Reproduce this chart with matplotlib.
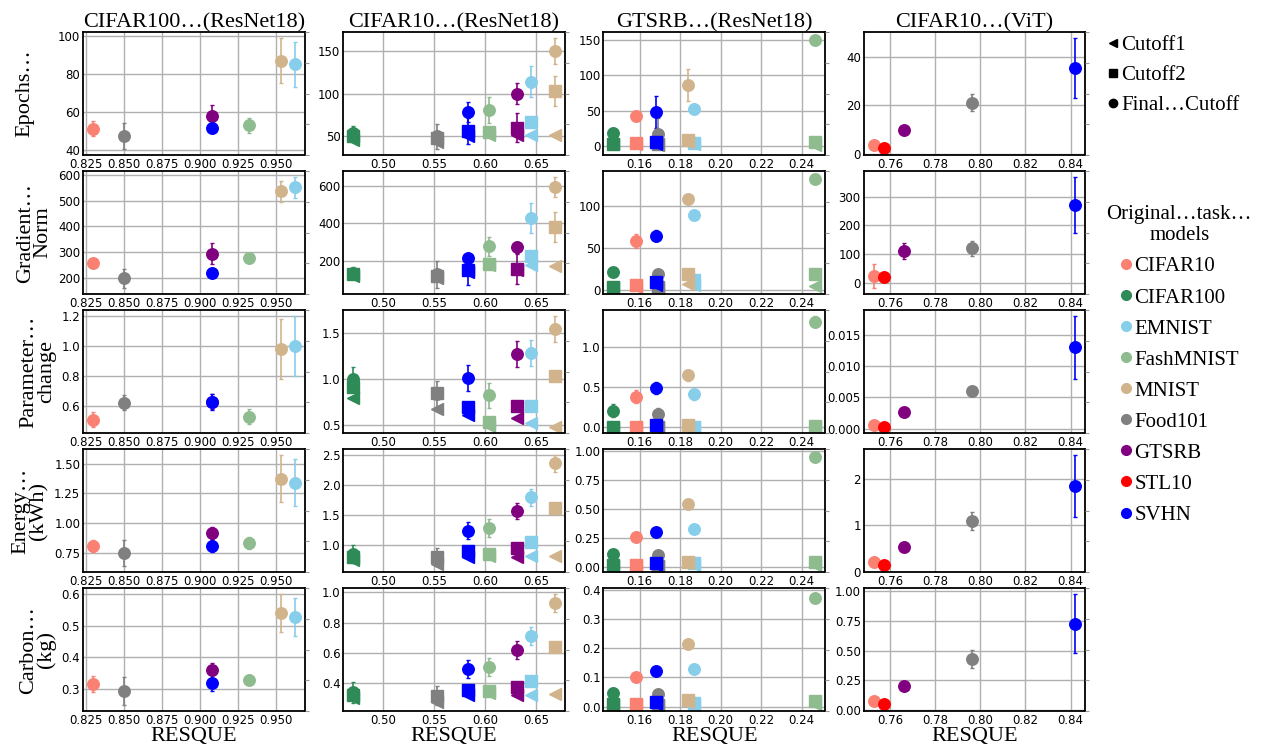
import matplotlib
matplotlib.use("Agg")
import matplotlib.pyplot as plt
from matplotlib.lines import Line2D

SERIF = "Liberation Serif"

# rows / columns
metrics = ["Epochs…\n ", "Gradient…\nNorm", "Parameter…\nchange", "Energy…\n(kWh)", "Carbon…\n(kg)"]
titles = ["CIFAR100…(ResNet18)", "CIFAR10…(ResNet18)", "GTSRB…(ResNet18)", "CIFAR10…(ViT)"]

legend_sets = ["CIFAR10", "CIFAR100", "EMNIST", "FashMNIST", "MNIST", "Food101", "GTSRB", "STL10", "SVHN"]
set_colors = ["salmon", "seagreen", "skyblue", "darkseagreen", "tan", "gray", "purple", "red", "blue"]
cut_labels = ["Cutoff1", "Cutoff2", "Final…Cutoff"]
cut_markers = ["<", "s", "o"]

# column 1: CIFAR100 (ResNet18) - final cutoff only
c1_sets = ["CIFAR10", "EMNIST", "FashMNIST", "MNIST", "Food101", "GTSRB", "SVHN"]
c1_resque = [0.8294, 0.9626, 0.9325, 0.9533, 0.8497, 0.908, 0.908]
c1_final = [
    [51.2, 85.1, 52.8, 87.2, 47.2, 58, 51.6],
    [259, 551, 278, 535, 200, 295, 220],
    [0.511, 1.0, 0.531, 0.98, 0.624, 0.63, 0.629],
    [0.809, 1.34, 0.832, 1.374, 0.745, 0.913, 0.81],
    [0.316, 0.528, 0.327, 0.541, 0.292, 0.358, 0.318],
]
c1_final_err = [
    [4, 12, 4, 12, 7, 5.5, 3],
    [8, 40, 6, 40, 38, 40, 8],
    [0.05, 0.2, 0.05, 0.2, 0.05, 0.05, 0.05],
    [0.05, 0.2, 0.05, 0.2, 0.11, 0.05, 0.05],
    [0.025, 0.06, 0.005, 0.06, 0.045, 0.025, 0.025],
]

# column 2: CIFAR10 (ResNet18)
c2_sets = ["CIFAR100", "EMNIST", "FashMNIST", "MNIST", "Food101", "GTSRB", "SVHN"]
c2_resque = [0.471, 0.645, 0.604, 0.668, 0.553, 0.631, 0.583]
c2_cut1 = [
    [46, 51.5, 52, 51.5, 44, 52, 50],
    [118, 178, 178, 173, 105, 150, 140],
    [0.795, 0.52, 0.485, 0.475, 0.675, 0.577, 0.606],
    [0.76, 0.82, 0.83, 0.82, 0.69, 0.80, 0.80],
    [0.30, 0.32, 0.33, 0.322, 0.275, 0.318, 0.32],
]
c2_cut2 = [
    [50, 67, 55, 103, 48, 60, 56],
    [125, 225, 180, 380, 115, 155, 148],
    [0.91, 0.71, 0.53, 1.025, 0.843, 0.71, 0.69],
    [0.80, 1.055, 0.86, 1.625, 0.80, 0.95, 0.90],
    [0.32, 0.414, 0.343, 0.64, 0.314, 0.374, 0.35],
]
c2_cut2_err = [
    [0, 0, 0, 17, 0, 17, 15],
    [0, 0, 0, 80, 0, 80, 80],
    [0, 0, 0, 0, 0, 0, 0],
    [0, 0, 0, 0, 0, 0, 0],
    [0, 0, 0, 0, 0, 0, 0],
]
c2_final = [
    [54, 114, 81, 150, 50, 100, 78.5],
    [135, 428, 276, 596, 125, 271, 215],
    [1.0, 1.28, 0.82, 1.54, 0.84, 1.266, 1.01],
    [0.85, 1.80, 1.285, 2.36, 0.80, 1.57, 1.24],
    [0.335, 0.708, 0.505, 0.93, 0.314, 0.62, 0.49],
]
c2_final_err = [
    [8, 18, 15, 15, 15, 12, 12],
    [30, 80, 50, 55, 75, 30, 20],
    [0.13, 0.14, 0.14, 0.14, 0.14, 0.14, 0.14],
    [0.15, 0.14, 0.15, 0.14, 0.15, 0.14, 0.14],
    [0.07, 0.06, 0.06, 0.06, 0.065, 0.06, 0.06],
]

# column 3: GTSRB (ResNet18)
c3_sets = ["CIFAR10", "CIFAR100", "EMNIST", "FashMNIST", "MNIST", "Food101", "SVHN"]
c3_resque = [0.158, 0.147, 0.187, 0.2466, 0.1836, 0.169, 0.1678]
c3_cut1 = [
    [2, 2, 3, 1.5, 5, 1, 3],
    [3, 3, 6, 4.5, 7, 2, 6],
    [0.005, 0.0, 0.005, 0.01, 0.02, 0.0, 0.01],
    [0.01, 0.01, 0.015, 0.02, 0.03, 0.005, 0.02],
    [0.005, 0.004, 0.006, 0.01, 0.015, 0.004, 0.01],
]
c3_cut2 = [
    [3.4, 3, 4, 6, 7.7, 2, 6],
    [5.4, 3.7, 12.4, 18.6, 18.6, 4, 10],
    [0.01, 0.01, 0.01, 0.02, 0.034, 0.005, 0.03],
    [0.018, 0.02, 0.03, 0.044, 0.044, 0.01, 0.035],
    [0.01, 0.009, 0.011, 0.02, 0.022, 0.007, 0.017],
]
c3_cut2_err = [
    [0, 0, 0, 0, 0, 0, 0],
    [0, 0, 0, 0, 4, 0, 8],
    [0, 0, 0, 0, 0, 0, 0],
    [0, 0, 0, 0, 0, 0, 0],
    [0, 0, 0, 0, 0, 0, 0],
]
c3_final = [
    [41.5, 18.8, 52, 150, 86, 17, 48],
    [58.3, 21, 88.4, 131, 108, 19, 64.5],
    [0.382, 0.21, 0.41, 1.32, 0.647, 0.172, 0.49],
    [0.258, 0.114, 0.326, 0.947, 0.54, 0.103, 0.305],
    [0.103, 0.048, 0.129, 0.372, 0.214, 0.043, 0.122],
]
c3_final_err = [
    [4, 4, 4, 3, 23, 22, 23],
    [8, 3, 3, 3, 4, 4, 6],
    [0.08, 0.08, 0.07, 0.07, 0.07, 0.07, 0.07],
    [0.02, 0.02, 0.02, 0.02, 0.02, 0.02, 0.02],
    [0.008, 0.008, 0.008, 0.014, 0.008, 0.008, 0.008],
]

# column 4: CIFAR10 (ViT) - final cutoff only
c4_sets = ["CIFAR10", "Food101", "GTSRB", "STL10", "SVHN"]
c4_resque = [0.7527, 0.7961, 0.7661, 0.7572, 0.8421]
c4_final = [
    [3.7, 21.1, 9.9, 2.3, 35.6],
    [24, 120, 111, 21, 271],
    [0.0006, 0.006, 0.0026, 0.0003, 0.013],
    [0.204, 1.095, 0.525, 0.139, 1.847],
    [0.0756, 0.43, 0.206, 0.049, 0.727],
]
c4_final_err = [
    [0.8, 3.5, 0.8, 0.5, 12.5],
    [42, 25, 28, 5, 97],
    [0.0002, 0.0003, 0.0002, 0.0001, 0.005],
    [0.03, 0.2, 0.03, 0.02, 0.66],
    [0.01, 0.075, 0.01, 0.01, 0.25],
]

zero1 = [[0] * 7 for _ in range(5)]
columns = [
    (c1_sets, c1_resque, [(2, c1_final, c1_final_err)]),
    (c2_sets, c2_resque, [(0, c2_cut1, zero1), (1, c2_cut2, c2_cut2_err), (2, c2_final, c2_final_err)]),
    (c3_sets, c3_resque, [(0, c3_cut1, zero1), (1, c3_cut2, c3_cut2_err), (2, c3_final, c3_final_err)]),
    (c4_sets, c4_resque, [(2, c4_final, c4_final_err)]),
]

fig, axes = plt.subplots(5, 4, figsize=(12.73, 7.47), dpi=100)
fig.subplots_adjust(left=0.0652, right=0.8526, top=0.9568, bottom=0.0482, wspace=0.173, hspace=0.134)

for c, (sets, xs, cuts) in enumerate(columns):
    for r in range(5):
        ax = axes[r, c]
        for i, name in enumerate(sets):
            col = set_colors[legend_sets.index(name)]
            for k, vals, errs in cuts:
                e = errs[r][i]
                ax.errorbar(xs[i], vals[r][i], yerr=e if e else None, fmt=cut_markers[k],
                            color=col, ms=8.3, elinewidth=1.2, capsize=1.5, capthick=1)
        ax.grid(True, color="#b0b0b0", linewidth=1)
        ax.set_axisbelow(True)
        ax.tick_params(length=0, labelsize=8.5, pad=2)
        for s in ax.spines.values():
            s.set_color("black")
            s.set_linewidth(1.3)
        tw = ax.twinx()
        tw.tick_params(axis="y", length=3, width=0.8, color="0.6", labelright=False)
        for s in tw.spines.values():
            s.set_visible(False)
        if c == 0:
            ax.set_ylabel(metrics[r], family=SERIF, fontsize=16, labelpad=4, linespacing=0.9)
        if r == 0:
            ax.set_title(titles[c], family=SERIF, fontsize=16, pad=3)
        if r == 4:
            ax.set_xlabel("RESQUE", family=SERIF, fontsize=16, labelpad=0)

cut_handles = [Line2D([], [], ls="", marker=m, color="black", ms=6) for m in cut_markers]
leg1 = fig.legend(cut_handles, cut_labels, loc="upper left", bbox_to_anchor=(0.861, 0.966),
                  frameon=False, prop={"family": SERIF, "size": 15}, handlelength=0.6,
                  handletextpad=0.1, labelspacing=0.5, borderpad=0)
set_handles = [Line2D([], [], ls="", marker="o", color=col, ms=7) for col in set_colors]
leg2 = fig.legend(set_handles, legend_sets, loc="upper left", bbox_to_anchor=(0.861, 0.74),
                  frameon=False, prop={"family": SERIF, "size": 15}, handlelength=0.6,
                  handletextpad=0.1, labelspacing=0.55, borderpad=0,
                  title="Original…task…\nmodels", title_fontproperties={"family": SERIF, "size": 15})
leg2.get_title().set_multialignment("center")

fig.savefig("out.png", dpi=100)
